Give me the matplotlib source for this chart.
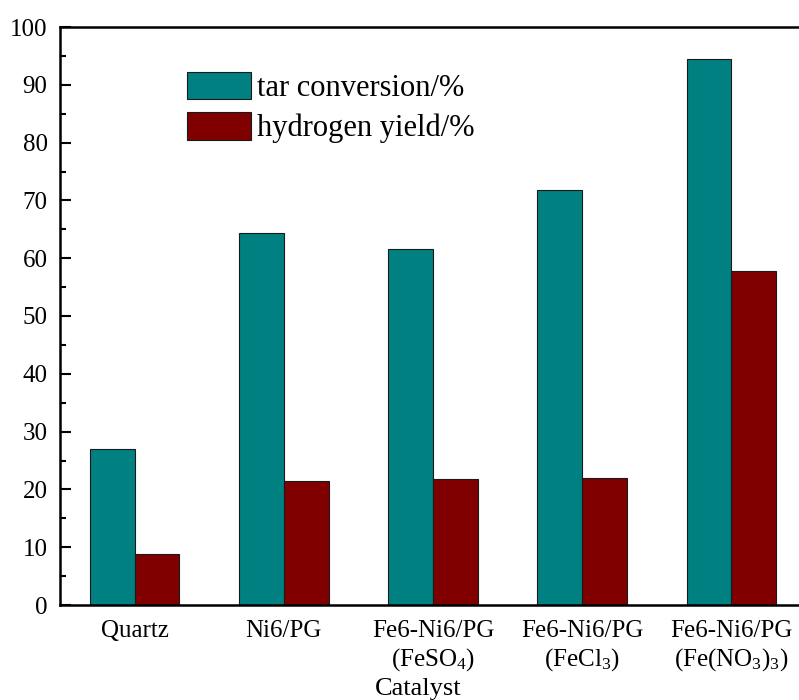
import numpy as np
import matplotlib
matplotlib.use("Agg")
import matplotlib.pyplot as plt

plt.rcParams['font.family'] = ['Liberation Serif', 'DejaVu Serif']
plt.rcParams['mathtext.fontset'] = 'custom'
plt.rcParams['mathtext.rm'] = 'Liberation Serif'

# data
catalysts = ["Quartz", "Ni6/PG",
             "Fe6-Ni6/PG\n(FeSO$\\mathregular{_4}$)",
             "Fe6-Ni6/PG\n(FeCl$\\mathregular{_3}$)",
             "Fe6-Ni6/PG\n(Fe(NO$\\mathregular{_3}$)$\\mathregular{_3}$)"]
tar_conversion = [27.0, 64.4, 61.6, 71.8, 94.5]
hydrogen_yield = [8.9, 21.5, 21.8, 22.0, 57.8]

fig = plt.figure(figsize=(7.99, 7.0), dpi=100)
ax = fig.add_axes([60 / 799, 1 - 605 / 700, 746 / 799, 578 / 700])

x = np.arange(len(catalysts))
w = 0.3
ax.bar(x - w / 2, tar_conversion, w, color='#008080', edgecolor='#1a1a1a',
       linewidth=0.8, label='tar conversion/%')
ax.bar(x + w / 2, hydrogen_yield, w, color='#800000', edgecolor='#1a1a1a',
       linewidth=0.8, label='hydrogen yield/%')

ax.set_xlim(-0.5, 4.5)
ax.set_ylim(0, 100)
ax.set_yticks(np.arange(0, 101, 10))
ax.set_yticks(np.arange(5, 100, 10), minor=True)
ax.set_xticks(x)
ax.set_xticklabels(catalysts, linespacing=1.2)

ax.tick_params(axis='y', which='major', direction='in', length=8, width=1.5,
               labelsize=18, pad=9)
ax.tick_params(axis='y', which='minor', direction='in', length=4, width=1.5)
ax.tick_params(axis='x', length=0, labelsize=18, pad=11)
for s in ax.spines.values():
    s.set_linewidth(1.8)

ax.set_xlabel("Catalyst", fontsize=19)
ax.xaxis.set_label_coords((418 - 60) / 746, -0.126)

ax.legend(loc='upper left', bbox_to_anchor=((187 - 60) / 746, 1 - (72 - 27) / 578),
          frameon=False, fontsize=22, handlelength=2.1, handleheight=1.0,
          labelspacing=0.3, handletextpad=0.2, borderpad=0, borderaxespad=0)

fig.savefig("out.png", dpi=100)
